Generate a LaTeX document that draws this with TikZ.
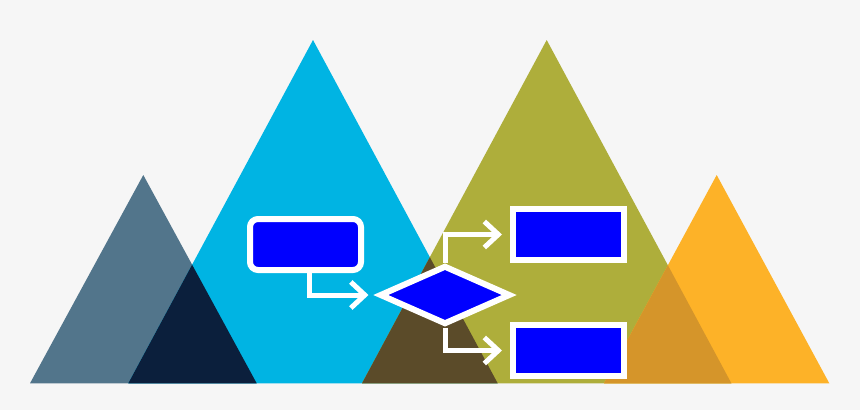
\documentclass[tikz,border=0pt]{standalone}
\usetikzlibrary{shapes.geometric,arrows.meta}

\definecolor{paper}{HTML}{F6F6F6}
\definecolor{slate}{HTML}{52758B}
\definecolor{navy}{HTML}{0B1F3C}
\definecolor{skycyan}{HTML}{00B4E3}
\definecolor{olive}{HTML}{AEAE3B}
\definecolor{mud}{HTML}{5B4B29}
\definecolor{amber}{HTML}{FDB228}
\definecolor{darkamber}{HTML}{D5952A}
\definecolor{flowblue}{HTML}{0000FF}

\begin{document}
\begin{tikzpicture}[
    x=1pt, y=-1pt,
    processbox/.style={draw=white, fill=flowblue, line width=6pt,
        minimum width=111pt, minimum height=51pt, inner sep=0pt},
    decisionbox/.style={shape=diamond, draw=white, fill=flowblue, line width=6pt,
        minimum width=131pt, minimum height=59pt, inner sep=0pt},
    flowline/.style={draw=white, line width=5pt,
        -{Straight Barb[length=14pt,width=26pt]}, shorten >=8pt}
]

\fill[paper] (0,0) rectangle (860,410);
\useasboundingbox (0,0) rectangle (860,410);

% mountains
\fill[slate]   (30,383.3) -- (143.3,175) -- (256.7,383.3) -- cycle;
\fill[skycyan] (128.3,383.3) -- (313,40) -- (497.7,383.3) -- cycle;
\fill[olive]   (362,383.3) -- (546.7,40) -- (731.4,383.3) -- cycle;
\fill[amber]   (604,383.3) -- (716.7,175) -- (829.3,383.3) -- cycle;

% overlaps
\begin{scope}
\clip (30,383.3) -- (143.3,175) -- (256.7,383.3) -- cycle;
\fill[navy] (128.3,383.3) -- (313,40) -- (497.7,383.3) -- cycle;
\end{scope}
\begin{scope}
\clip (128.3,383.3) -- (313,40) -- (497.7,383.3) -- cycle;
\fill[mud] (362,383.3) -- (546.7,40) -- (731.4,383.3) -- cycle;
\end{scope}
\begin{scope}
\clip (362,383.3) -- (546.7,40) -- (731.4,383.3) -- cycle;
\fill[darkamber] (604,383.3) -- (716.7,175) -- (829.3,383.3) -- cycle;
\end{scope}

% flowchart
\node[processbox, rounded corners=8pt] (start) at (305.5,244.5) {};
\node[decisionbox] (choice) at (445,295) {};
\node[processbox] (upper) at (568.5,234.5) {};
\node[processbox] (lower) at (568.5,350.5) {};

\draw[flowline] ([xshift=3.5pt]start.south) |- (choice.west);
\draw[flowline] (choice.north) |- (upper.west);
\draw[flowline] (choice.south) |- (lower.west);

\end{tikzpicture}
\end{document}
